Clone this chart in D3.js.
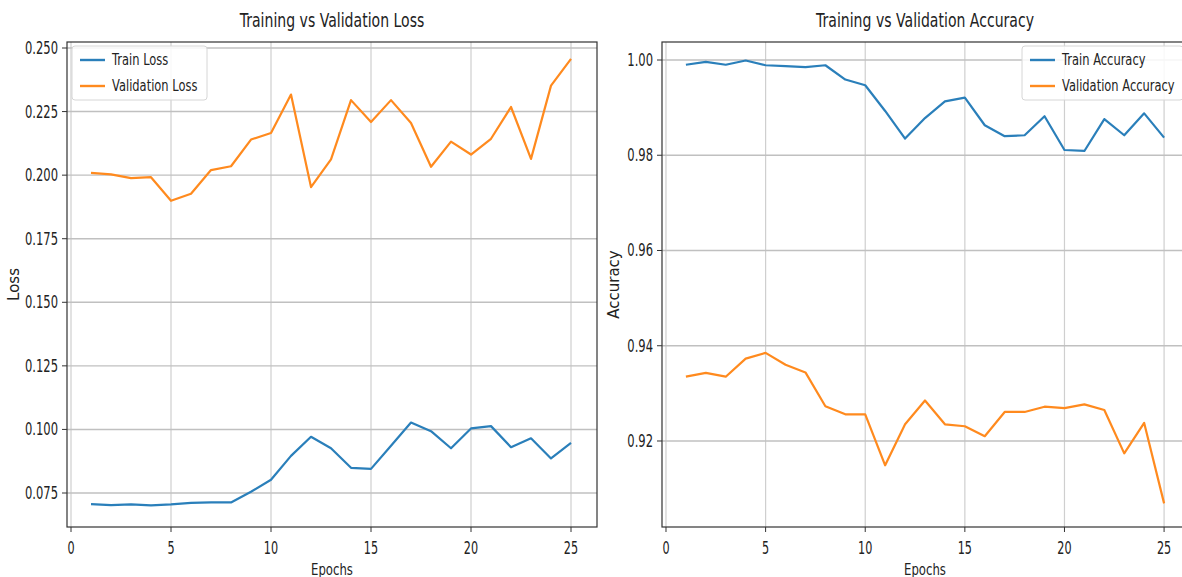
<!DOCTYPE html>
<html>
<head>
<meta charset="utf-8">
<script src="https://cdn.jsdelivr.net/npm/d3@7.9.0/dist/d3.min.js"></script>
<style>
  html, body { margin: 0; padding: 0; background: #fff; }
  svg { display: block; font-family: "DejaVu Sans", sans-serif; }
</style>
</head>
<body>
<div id="chart"></div>
<script>
// ---- data ----
const epochs = d3.range(1, 26);

const trainLoss = [0.0706, 0.0702, 0.0705, 0.0701, 0.0705, 0.0711, 0.0713, 0.0713, 0.0755, 0.0802,
                   0.0896, 0.0971, 0.0926, 0.0849, 0.0845, 0.0936, 0.1027, 0.0993, 0.0926, 0.1004,
                   0.1013, 0.0930, 0.0965, 0.0886, 0.0947];
const valLoss = [0.2009, 0.2003, 0.1988, 0.1992, 0.1899, 0.1927, 0.2020, 0.2035, 0.2140, 0.2166,
                 0.2317, 0.1953, 0.2062, 0.2295, 0.2209, 0.2295, 0.2205, 0.2033, 0.2132, 0.2081,
                 0.2143, 0.2268, 0.2064, 0.2352, 0.2457];

const trainAcc = [0.9990, 0.9996, 0.9990, 0.9999, 0.9989, 0.9987, 0.9985, 0.9989, 0.9959, 0.9947,
                  0.9893, 0.9835, 0.9878, 0.9913, 0.9921, 0.9863, 0.9840, 0.9842, 0.9882, 0.9811,
                  0.9809, 0.9876, 0.9842, 0.9888, 0.9837];
const valAcc = [0.9335, 0.9343, 0.9335, 0.9373, 0.9385, 0.9360, 0.9344, 0.9273, 0.9256, 0.9256,
                0.9149, 0.9235, 0.9285, 0.9235, 0.9231, 0.9210, 0.9261, 0.9261, 0.9272, 0.9269,
                0.9277, 0.9265, 0.9174, 0.9238, 0.9069];

const xTicks = [0, 5, 10, 15, 20, 25];
const lossTicks = [0.075, 0.100, 0.125, 0.150, 0.175, 0.200, 0.225, 0.250];
const accTicks = [0.92, 0.94, 0.96, 0.98, 1.00];

const blue = "#2a7fba", orange = "#ff8a1e";

const W = 1182, H = 577;
const svg = d3.select("#chart").append("svg")
  .attr("width", W).attr("height", H);

// squeezed text helper (the reference's glyphs are narrow)
function label(g, x, y, str, size, sx, anchor, rotate) {
  const rot = rotate ? ` rotate(${rotate})` : "";
  return g.append("text")
    .attr("transform", `translate(${x},${y})${rot} scale(${sx},1)`)
    .attr("text-anchor", anchor || "start")
    .attr("fill", "#222")
    .style("font-size", size + "px")
    .text(str);
}

function panel(opts) {
  const { left, right, top, bottom, xDomain, yDomain, yTicks, yFmt,
          series, title, yLabel, yLabelX, legendSide } = opts;

  const x = d3.scaleLinear().domain(xDomain).range([left, right]);
  const y = d3.scaleLinear().domain(yDomain).range([bottom, top]);

  const g = svg.append("g");
  const clipId = "clip" + Math.round(left);
  g.append("clipPath").attr("id", clipId)
    .append("rect").attr("x", left).attr("y", top)
    .attr("width", right - left).attr("height", bottom - top);

  // grid
  const grid = g.append("g").attr("clip-path", `url(#${clipId})`);
  grid.selectAll(".vg").data(xTicks).join("line")
    .attr("x1", d => x(d)).attr("x2", d => x(d))
    .attr("y1", top).attr("y2", bottom)
    .attr("stroke", "#cfcfcf").attr("stroke-width", 1.2);
  grid.selectAll(".hg").data(yTicks).join("line")
    .attr("x1", left).attr("x2", right)
    .attr("y1", d => y(d)).attr("y2", d => y(d))
    .attr("stroke", "#c0c0c0").attr("stroke-width", 1.4);

  // lines
  const line = d3.line().x((d, i) => x(epochs[i])).y(d => y(d));
  series.forEach(s => {
    grid.append("path").datum(s.values)
      .attr("fill", "none").attr("stroke", s.color)
      .attr("stroke-width", 2.2).attr("stroke-linejoin", "round")
      .attr("d", line);
  });

  // frame
  g.append("rect").attr("x", left).attr("y", top)
    .attr("width", right - left).attr("height", bottom - top)
    .attr("fill", "none").attr("stroke", "#333").attr("stroke-width", 1.2);

  // x axis ticks
  xTicks.forEach(t => {
    g.append("line").attr("x1", x(t)).attr("x2", x(t))
      .attr("y1", bottom).attr("y2", bottom + 5)
      .attr("stroke", "#333").attr("stroke-width", 1);
    label(g, x(t), 554, String(t), 17, 0.66, "middle");
  });
  // y axis ticks
  yTicks.forEach(t => {
    g.append("line").attr("x1", left - 5).attr("x2", left)
      .attr("y1", y(t)).attr("y2", y(t))
      .attr("stroke", "#333").attr("stroke-width", 1);
    label(g, left - 9, y(t) + 6, yFmt(t), 17, 0.68, "end");
  });

  // titles
  const cx = (left + right) / 2;
  label(g, cx, 27, title, 19, 0.74, "middle");
  label(g, cx, 575, "Epochs", 15, 0.78, "middle");
  label(g, yLabelX, (top + bottom) / 2, yLabel, 15, 1, "middle", -90);

  // legend
  const lw = legendSide === "left" ? 135 : 161;
  const lx = legendSide === "left" ? left + 5 : right - 5 - lw;
  const leg = g.append("g");
  leg.append("rect").attr("x", lx).attr("y", top + 4)
    .attr("width", lw).attr("height", 54).attr("rx", 3)
    .attr("fill", "rgba(255,255,255,0.85)").attr("stroke", "#d6d6d6");
  series.forEach((s, i) => {
    const ly = top + 18 + i * 26;
    leg.append("line").attr("x1", lx + 8).attr("x2", lx + 33)
      .attr("y1", ly).attr("y2", ly)
      .attr("stroke", s.color).attr("stroke-width", 2.4);
    label(leg, lx + 40, ly + 5, s.name, 15.5, 0.74, "start");
  });
}

// left panel: loss
panel({
  left: 67, right: 597, top: 42, bottom: 527,
  xDomain: [-0.2, 26.3],
  yDomain: [0.06163, 0.25236],
  yTicks: lossTicks,
  yFmt: d3.format(".3f"),
  series: [{ name: "Train Loss", values: trainLoss, color: blue },
           { name: "Validation Loss", values: valLoss, color: orange }],
  title: "Training vs Validation Loss",
  yLabel: "Loss", yLabelX: 19,
  legendSide: "left"
});

// right panel: accuracy
panel({
  left: 662, right: 1188, top: 42, bottom: 527,
  xDomain: [-0.2, 26.2],
  yDomain: [0.90194, 1.00378],
  yTicks: accTicks,
  yFmt: d3.format(".2f"),
  series: [{ name: "Train Accuracy", values: trainAcc, color: blue },
           { name: "Validation Accuracy", values: valAcc, color: orange }],
  title: "Training vs Validation Accuracy",
  yLabel: "Accuracy", yLabelX: 619,
  legendSide: "right"
});
</script>
</body>
</html>
